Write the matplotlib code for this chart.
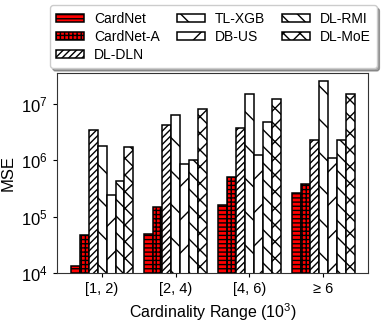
import numpy as np
import matplotlib
matplotlib.use('Agg')
import matplotlib.pyplot as plt

plt.rcParams['font.family'] = ['Liberation Sans', 'DejaVu Sans']
plt.rcParams['mathtext.default'] = 'regular'
plt.rcParams['hatch.linewidth'] = 1.0

## Datos
rangos = ['[1, 2)', '[2, 4)', '[4, 6)', '≥ 6']
metodos = ['CardNet', 'CardNet-A', 'DL-DLN', 'TL-XGB', 'DB-US', 'DL-RMI', 'DL-MoE']
cardnet = [1.33e4, 4.9e4, 1.6e5, 2.6e5]
cardnet_a = [4.8e4, 1.5e5, 5.1e5, 3.8e5]
dl_dln = [3.4e6, 4.2e6, 3.7e6, 2.3e6]
tl_xgb = [1.8e6, 6.3e6, 1.5e7, 2.5e7]
db_us = [2.4e5, 8.7e5, 1.26e6, 1.1e6]
dl_rmi = [4.3e5, 1.0e6, 4.7e6, 2.3e6]
dl_moe = [1.7e6, 8.0e6, 1.2e7, 1.5e7]

series = [cardnet, cardnet_a, dl_dln, tl_xgb, db_us, dl_rmi, dl_moe]
colores = ['red', 'red', 'white', 'white', 'white', 'white', 'white']
tramas = ['----', '++++', '/////', '\\', '/', '\\\\', 'xx']

fig = plt.figure(figsize=(3.83, 3.22), dpi=100)
ax = fig.add_axes([0.149, 0.152, 0.812, 0.621])

x = np.arange(len(rangos))
ancho = 0.122
for i, valores in enumerate(series):
    ax.bar(x + (i - 3) * ancho, valores, width=ancho, color=colores[i],
           edgecolor='black', linewidth=1.1, hatch=tramas[i], label=metodos[i])

ax.set_yscale('log')
ax.set_ylim(1e4, 3.5e7)
ax.set_xlim(-0.61, 3.61)
ax.set_xticks(x)
ax.set_xticklabels(rangos, fontsize=10.5)
ax.tick_params(axis='y', labelsize=12, length=3)
ax.tick_params(axis='x', length=3)
ax.minorticks_off()
ax.set_xlabel('Cardinality Range ($10^3$)', fontsize=11.5)
ax.set_ylabel('MSE', fontsize=12)
for s in ax.spines.values():
    s.set_color('#333333')

fig.legend(loc='upper center', bbox_to_anchor=(0.557, 1.005), ncol=3,
           fontsize=10, fancybox=True, shadow=True, framealpha=1,
           columnspacing=1.25, handletextpad=0.7, labelspacing=0.3,
           handlelength=2.0, handleheight=0.5, borderpad=0.45)

fig.savefig('out.png', dpi=100)
